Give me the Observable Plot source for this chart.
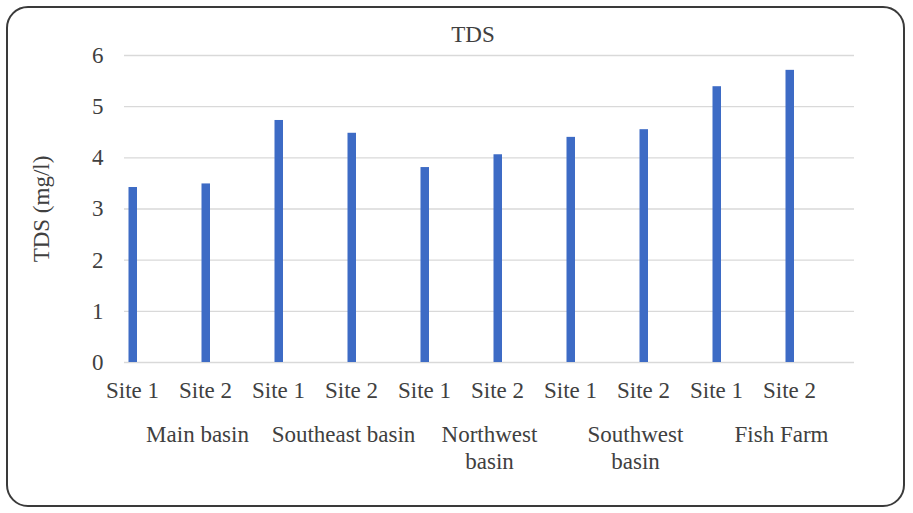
<!DOCTYPE html>
<html>
<head>
<meta charset="utf-8">
<script src="https://cdn.jsdelivr.net/npm/d3@7"></script>
<script src="https://cdn.jsdelivr.net/npm/@observablehq/plot@0.6"></script>
<style>
  body { margin: 0; background: #fff; }
  #wrap { position: relative; width: 913px; height: 513px; overflow: hidden;
          font-family: "Liberation Serif", "Times New Roman", serif; }
  #frame { position: absolute; left: 6px; top: 6px; width: 899px; height: 501px;
           border: 2px solid #3a3a3a; border-radius: 22px; box-sizing: border-box; }
  #chart { position: absolute; left: 0; top: 0; }
  #title { position: absolute; top: 23px; left: 0; width: 946px; text-align: center;
           font-size: 23px; line-height: 23px; color: #404040; }
</style>
</head>
<body>
<div id="wrap">
  <div id="frame"></div>
  <div id="chart"></div>
  <div id="title">TDS</div>
</div>
<script>
// Sampling locations, grouped by basin
const groups = ["Main basin", "Southeast basin", "Northwest basin", "Southwest basin", "Fish Farm"];
const groupLabels = ["Main basin", "Southeast basin", "Northwest\nbasin", "Southwest\nbasin", "Fish Farm"];
const sites = ["Site 1", "Site 2"];

// Total dissolved solids (mg/l) per site
const site1 = [3.42, 4.73, 3.81, 4.40, 5.39];
const site2 = [3.49, 4.48, 4.06, 4.55, 5.71];

const yTicks = [0, 1, 2, 3, 4, 5, 6];

const data = groups.flatMap((g, i) => [
  {group: g, site: sites[0], tds: site1[i]},
  {group: g, site: sites[1], tds: site2[i]}
]);

const chart = Plot.plot({
  width: 913,
  height: 513,
  marginLeft: 122,
  marginRight: 57,
  marginTop: 55,
  marginBottom: 151,
  style: {fontFamily: "'Liberation Serif', 'Times New Roman', serif", fontSize: "23px", color: "#404040", background: "transparent"},
  fx: {domain: groups, padding: 0, label: null},
  x: {domain: sites, padding: 0, label: null},
  y: {domain: [0, 6], label: "TDS (mg/l)"},
  marks: [
    Plot.gridY(yTicks, {stroke: "#d9d9d9", strokeOpacity: 1, strokeWidth: 1.3}),
    Plot.barY(data, {fx: "group", x: "site", y: "tds", fill: "#3d6bc5", insetLeft: 4.5, insetRight: 60}),
    Plot.axisY(yTicks, {tickSize: 0, tickPadding: 21, tickFormat: d => String(d),
                        label: "TDS (mg/l)", labelAnchor: "center", labelOffset: 92, labelArrow: "none"}),
    Plot.axisX({tickSize: 0, tickPadding: 19.3, dx: -28.5, label: null}),
    Plot.axisFx({anchor: "bottom", tickSize: 0, tickPadding: 60.3, label: null, lineHeight: 1.17,
                 tickFormat: g => groupLabels[groups.indexOf(g)]})
  ]
});
document.getElementById("chart").append(chart);
</script>
</body>
</html>
